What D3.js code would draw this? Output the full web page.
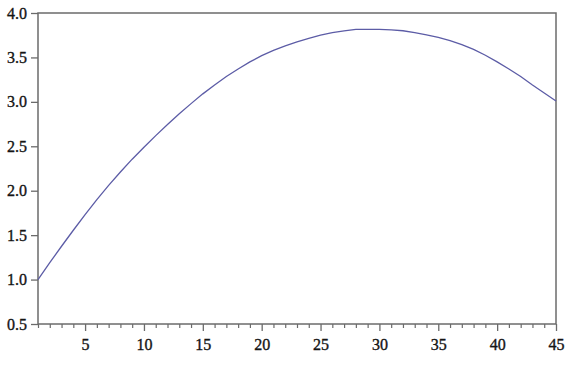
<!DOCTYPE html>
<html>
<head>
<meta charset="utf-8">
<script src="https://cdn.jsdelivr.net/npm/d3@7"></script>
<style>
  body { margin: 0; background: #fff; }
  svg text { font-family: "Liberation Serif", "Times New Roman", serif; font-size: 16px; fill: #151515; stroke: #151515; stroke-width: 0.35px; }
</style>
</head>
<body>
<div id="chart"></div>
<script>
// values, one per period
const periods = d3.range(1, 46);
const values = [
  1.00, 1.19, 1.375, 1.555, 1.73, 1.90, 2.06, 2.21, 2.355, 2.49,
  2.62, 2.745, 2.865, 2.98, 3.09, 3.19, 3.285, 3.37, 3.45, 3.52,
  3.58, 3.63, 3.675, 3.715, 3.75, 3.78, 3.80, 3.815, 3.815, 3.815,
  3.81, 3.80, 3.78, 3.755, 3.725, 3.69, 3.645, 3.59, 3.525, 3.45,
  3.37, 3.285, 3.19, 3.10, 3.01
];
const yTicks = [0.5, 1.0, 1.5, 2.0, 2.5, 3.0, 3.5, 4.0];
const xLabels = [5, 10, 15, 20, 25, 30, 35, 40, 45];

// set the dimensions and margins of the graph
const margin = {top: 13, right: 17, bottom: 44, left: 38},
    width = 573 - margin.left - margin.right,
    height = 368 - margin.top - margin.bottom;

const svg = d3.select("#chart")
    .append("svg")
    .attr("width", 573)
    .attr("height", 368)
    .append("g")
    .attr("transform", `translate(${margin.left}, ${margin.top})`);

const x = d3.scaleLinear().domain([1, 45]).range([0, width]);
const y = d3.scaleLinear().domain([0.5, 4.0]).range([height, 0]);

const frameColor = "#6b6b6b";

// y axis
const yAxis = svg.append("g")
    .call(d3.axisLeft(y).tickValues(yTicks).tickSize(7).tickPadding(4).tickFormat(d3.format(".1f")));
yAxis.select(".domain").remove();
yAxis.selectAll("line").attr("stroke", frameColor).attr("stroke-width", 1.3);

// x axis: minor ticks every period
const xMinor = svg.append("g")
    .attr("transform", `translate(0, ${height})`)
    .call(d3.axisBottom(x).tickValues(periods.filter(d => d % 5 !== 0)).tickSize(4).tickFormat(""));
xMinor.select(".domain").remove();
xMinor.selectAll("line").attr("stroke", frameColor).attr("stroke-width", 1.2);

// x axis: major ticks with labels
const xMajor = svg.append("g")
    .attr("transform", `translate(0, ${height})`)
    .call(d3.axisBottom(x).tickValues(xLabels).tickSize(7).tickPadding(8));
xMajor.select(".domain").remove();
xMajor.selectAll("line").attr("stroke", frameColor).attr("stroke-width", 1.3);

// frame box
svg.append("rect")
    .attr("x", 0)
    .attr("y", 0)
    .attr("width", width)
    .attr("height", height)
    .attr("fill", "none")
    .attr("stroke", frameColor)
    .attr("stroke-width", 1.5);

// the line
const line = d3.line()
    .x((d, i) => x(periods[i]))
    .y(d => y(d));

svg.append("path")
    .datum(values)
    .attr("fill", "none")
    .attr("stroke", "#5c5ca6")
    .attr("stroke-width", 1.3)
    .attr("d", line);
</script>
</body>
</html>
